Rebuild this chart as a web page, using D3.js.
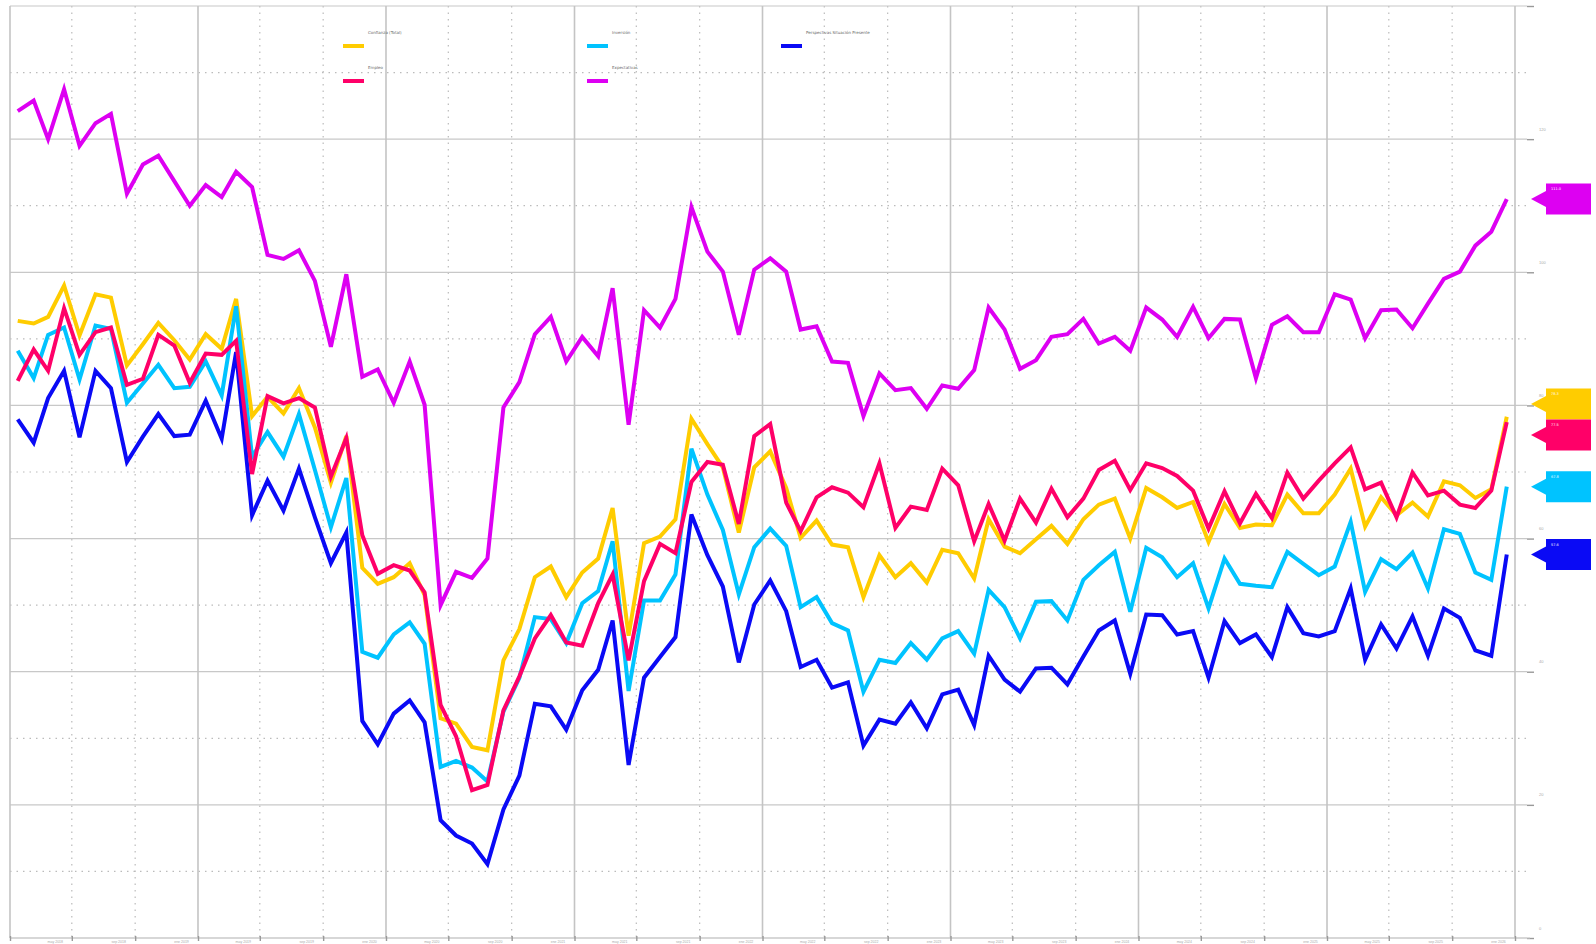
<!DOCTYPE html>
<html>
<head>
<meta charset="utf-8">
<script src="https://cdn.jsdelivr.net/npm/d3@7"></script>
<style>
html,body{margin:0;padding:0;background:#fff;}
svg{display:block;font-family:"DejaVu Sans",sans-serif;}
</style>
</head>
<body>
<svg id="chart" width="1596" height="944"></svg>
<script>
// ---- DATA ----
const startYear = 2018;
const monthCount = 96;
const seriesNames = ["Confianza (Total)", "Inversión", "Perspectivas Situación Presente", "Empleo", "Expectativas"];
const seriesColors = ["#FFCC00", "#00C3FF", "#0A0AF5", "#FF0068", "#DD00F2"];
const monthLabels = ["ene","feb","mar","abr","may","jun","jul","ago","sep","oct","nov","dic"];
const yTickValues = [0, 20, 40, 60, 80, 100, 120, 140];

const confianza = [92.7,92.3,93.3,98,90.5,96.7,96.2,86,89.2,92.4,89.8,86.9,90.7,88.5,96,78.4,81.3,78.8,82.6,76.7,68.4,75.4,55.6,53.2,
54.2,56.3,51.5,33,32.2,28.7,28.2,41.7,46.4,54.2,55.8,51.2,54.9,57,64.6,45.4,59.3,60.3,62.9,78,74.2,70.7,60.9,70.7,73.1,67.6,
60.1,62.7,59.1,58.7,51.2,57.5,54.2,56.3,53.4,58.3,57.8,54,62.9,58.8,57.8,59.9,61.9,59.2,62.9,65.1,66,60,
67.6,66.2,64.6,65.5,59.5,65.2,61.6,62.1,62,66.6,63.8,63.8,66.6,70.5,61.8,66.2,63.5,65.4,63.3,68.6,68,66.1,67.4,78.3];

const inversion = [88.2,84.1,90.6,91.7,83.9,92,91.5,80.4,83.3,86.1,82.6,82.8,86.6,81.5,94.9,72.3,76,72.3,78.7,70.3,61.7,69.1,43,42.1,
45.6,47.4,44.2,25.7,26.6,25.6,23.5,34,39.1,48.2,47.9,44.3,50.3,52.1,59.6,37.1,50.7,50.7,54.6,73.5,66.6,61.3,51.6,58.7,61.5,58.9,
49.7,51.2,47.3,46.2,37,41.8,41.3,44.3,41.8,45,46.1,42.7,52.3,49.7,45,50.5,50.6,47.7,53.8,56,58,49,
58.6,57.2,54.2,56.3,49.5,57,53.2,52.9,52.7,58,56.2,54.5,55.8,62.5,52,56.9,55.4,57.9,52.5,61.4,60.7,54.9,53.8,67.8];

const perspectivas = [77.9,74.4,81.1,85.2,75.2,85.2,82.6,71.5,75.3,78.7,75.4,75.6,80.7,75,88,63.5,68.7,64.2,70.5,63.2,56.3,60.9,32.6,29.1,
33.7,35.7,32.4,17.7,15.4,14.2,11.1,19.3,24.4,35.2,34.8,31.3,37.2,40.3,47.7,26,39.1,42.2,45.2,63.6,57.5,52.8,41.4,50.1,53.7,49.1,
40.7,41.8,37.6,38.4,28.9,32.8,32.2,35.4,31.5,36.6,37.3,32,42.4,38.8,37,40.5,40.6,38.1,42.3,46.2,47.7,39.7,
48.6,48.5,45.6,46.1,39.1,47.6,44.3,45.6,42.2,49.7,45.8,45.3,46.1,52.5,41.8,47.1,43.5,48.3,42.4,49.5,48.1,43.2,42.4,57.6];

const empleo = [83.7,88.4,85.2,94.6,87.6,91,91.7,83.1,84,90.6,89,83.4,87.8,87.6,89.7,69.7,81.4,80.3,81.1,79.7,69.3,75.1,60.5,54.7,
56,55.2,51.9,35,30.3,22.2,23,34.2,39.3,45,48.5,44.4,43.9,50.3,54.6,41.7,53.6,59.2,57.8,68.5,71.5,71.1,62.2,75.4,77.2,65.4,
61.1,66.2,67.7,66.9,64.7,71.3,61.6,64.8,64.3,70.5,68,59.6,65.2,59.7,66,62.4,67.5,63.2,66,70.3,71.7,67.3,
71.3,70.6,69.4,67.2,61.5,67.1,62.3,66.7,63.1,69.9,66,68.7,71.3,73.7,67.4,68.4,63.2,69.9,66.5,67.2,65.1,64.6,67.2,77.5];

const expectativas = [124.2,125.8,120,127.5,119,122.4,123.8,111.8,116.2,117.5,113.7,110,113.1,111.3,115.1,112.8,102.6,102,103.3,98.7,88.8,99.7,84.3,85.4,
80.4,86.6,80.1,50,55,54.1,57,79.7,83.5,90.7,93.3,86.6,90.3,87.4,97.6,77.1,94.3,91.7,96,109.8,103.1,100.1,90.6,100.4,102.1,100.1,
91.4,91.9,86.6,86.4,78.4,84.8,82.3,82.6,79.5,83,82.5,85.3,94.7,91.4,85.5,86.8,90.3,90.7,93,89.3,90.3,88.2,
94.7,92.9,90.3,94.8,90.1,93,92.9,84.1,92.1,93.4,91,91,96.7,95.9,90.1,94.3,94.4,91.6,95.3,99,100.1,104,106.1,111];

const seriesValues = [confianza, inversion, perspectivas, empleo, expectativas];

// ---- CHART ----
const svg = d3.select("#chart");
const plotLeft = 10, plotRight = 1515, plotTop = 6, plotBottom = 938;
const dates = d3.range(monthCount).map(i => new Date(startYear, i, 16));

const x = d3.scaleTime()
  .domain([new Date(startYear, 0, 1), new Date(startYear + 8, 0, 1)])
  .range([plotLeft, plotRight]);
const y = d3.scaleLinear().domain([0, 140]).range([plotBottom, plotTop]);

const grid = svg.append("g");
const minorY = d3.range(10, 140, 20);
grid.selectAll(".hminor").data(minorY).join("line")
  .attr("x1", plotLeft).attr("x2", 1530)
  .attr("y1", d => y(d)).attr("y2", d => y(d))
  .attr("stroke", "#bbb").attr("stroke-width", 1.2).attr("stroke-dasharray", "1.5,5");
const minorX = d3.timeMonth.every(4).range(new Date(startYear, 0, 1), new Date(startYear + 8, 0, 1))
  .filter(d => d.getMonth() !== 0);
grid.selectAll(".vminor").data(minorX).join("line")
  .attr("x1", d => x(d)).attr("x2", d => x(d))
  .attr("y1", plotTop).attr("y2", plotBottom)
  .attr("stroke", "#bbb").attr("stroke-width", 1.2).attr("stroke-dasharray", "1.5,5");
grid.selectAll(".hmajor").data(yTickValues).join("line")
  .attr("x1", plotLeft).attr("x2", 1527)
  .attr("y1", d => y(d)).attr("y2", d => y(d))
  .attr("stroke", "#c8c8c8").attr("stroke-width", 1.2);
const years = d3.timeYear.range(new Date(startYear, 0, 1), new Date(startYear + 8, 0, 2));
grid.selectAll(".vmajor").data(years).join("line")
  .attr("x1", d => x(d)).attr("x2", d => x(d))
  .attr("y1", plotTop).attr("y2", plotBottom)
  .attr("stroke", "#c4c4c4").attr("stroke-width", 1.6);

// right axis
const yAxis = d3.axisRight(y).tickValues(yTickValues).tickSize(7)
  .tickFormat(d => d === 140 ? "" : d3.format("d")(d));
const yAxisG = svg.append("g").attr("transform", `translate(1527,0)`).call(yAxis);
yAxisG.select(".domain").remove();
yAxisG.selectAll(".tick line").attr("stroke", "#999").attr("stroke-width", 1.4);
yAxisG.selectAll(".tick text").attr("x", 12).attr("dy", "-9").attr("fill", "#aaa")
  .style("font-size", "4px");

// bottom axis
const fmt = d => (d.getMonth() === 0 && d.getFullYear() === startYear) ? "" : monthLabels[d.getMonth()] + " " + d.getFullYear();
const xAxis = d3.axisBottom(x).ticks(d3.timeMonth.every(4)).tickSize(3).tickFormat(fmt);
const xAxisG = svg.append("g").attr("transform", `translate(0,${plotBottom})`).call(xAxis);
xAxisG.select(".domain").attr("stroke", "#ccc").attr("stroke-width", 1.2).attr("d", `M${plotLeft},0H1530`);
xAxisG.selectAll(".tick line").attr("stroke", "#999").attr("stroke-width", 1.4).attr("y1", -2);
xAxisG.selectAll(".tick text").attr("x", -17).attr("y", 3).attr("fill", "#aaa").style("font-size", "3.5px");

// lines
const line = d3.line().x((d, i) => x(dates[i])).y(d => y(d));
seriesValues.forEach((vals, k) => {
  svg.append("path").datum(vals)
    .attr("fill", "none").attr("stroke", seriesColors[k]).attr("stroke-width", 4)
    .attr("stroke-linejoin", "miter").attr("stroke-miterlimit", 4)
    .attr("d", line);
});

// legend
const legendPos = [[343, 46], [587, 46], [781, 46], [343, 81], [587, 81]];
const leg = svg.append("g");
seriesNames.forEach((name, k) => {
  const [lx, ly] = legendPos[k];
  leg.append("line").attr("x1", lx).attr("x2", lx + 21).attr("y1", ly).attr("y2", ly)
    .attr("stroke", seriesColors[k]).attr("stroke-width", 4);
  leg.append("text").attr("x", lx + 25).attr("y", ly - 12).text(name)
    .attr("fill", "#666").style("font-size", "4px");
});

// end labels with dodge
const labelH = 31;
let labels = seriesValues.map((vals, k) => ({k, v: vals[vals.length - 1], cy: y(vals[vals.length - 1])}));
labels.sort((a, b) => a.cy - b.cy);
let clusters = labels.map(l => ({items: [l], center: l.cy}));
let merged = true;
while (merged) {
  merged = false;
  for (let i = 0; i < clusters.length - 1; i++) {
    const a = clusters[i], b = clusters[i + 1];
    const aBottom = a.center + a.items.length * labelH / 2;
    const bTop = b.center - b.items.length * labelH / 2;
    if (aBottom > bTop) {
      const items = a.items.concat(b.items);
      const center = d3.mean(items, d => d.cy);
      clusters.splice(i, 2, {items, center});
      merged = true;
      break;
    }
  }
}
clusters.forEach(c => {
  const n = c.items.length;
  c.items.forEach((l, j) => { l.ly = c.center - n * labelH / 2 + labelH * (j + 0.5); });
});
const lab = svg.append("g");
labels.forEach(l => {
  const c = seriesColors[l.k];
  const t = l.ly;
  lab.append("path")
    .attr("d", `M1531,${t}L1546,${t - 8}L1546,${t - labelH / 2}L1591,${t - labelH / 2}L1591,${t + labelH / 2}L1546,${t + labelH / 2}L1546,${t + 8}Z`)
    .attr("fill", c);
  lab.append("text").attr("x", 1551).attr("y", t - 9).text(d3.format(".1f")(l.v))
    .attr("fill", "#fff").style("font-size", "3.5px");
});
</script>
</body>
</html>
